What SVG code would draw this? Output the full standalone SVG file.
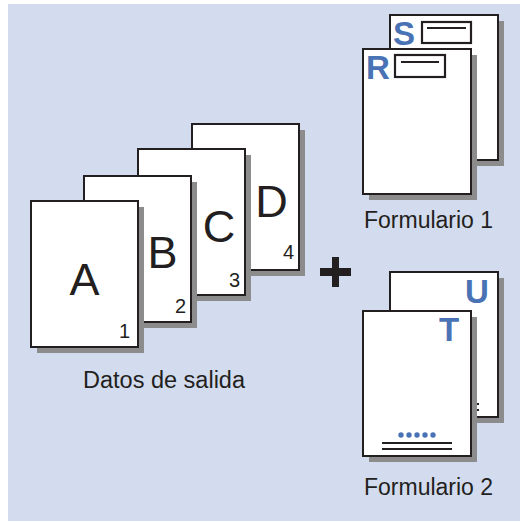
<svg xmlns="http://www.w3.org/2000/svg" width="520" height="522" viewBox="0 0 520 522">
<style>
.sh{fill:#8c8c8c}
.pg{fill:#fff;stroke:#231f20;stroke-width:2}
.big{font-family:"Liberation Sans",Arial,sans-serif;font-size:45px;fill:#231f20;text-anchor:middle}
.num{font-family:"Liberation Sans",Arial,sans-serif;font-size:20px;fill:#231f20;text-anchor:end}
.lbl{font-family:"Liberation Sans",Arial,sans-serif;font-size:23px;fill:#231f20}
.bl{font-family:"Liberation Sans",Arial,sans-serif;font-size:33px;font-weight:bold;fill:#4a73b5}
.box{fill:#fff;stroke:#231f20;stroke-width:2.2}
.ln{stroke:#231f20;stroke-width:2;fill:none}
</style>
<rect x="8" y="4" width="512" height="517" fill="#d3dcee"/>
<g id="sheet-D">
<rect class="sh" x="198" y="130" width="107" height="146"/>
<rect class="pg" x="192" y="124" width="107" height="146"/>
<text class="big" x="271.5" y="217">D</text>
<text class="num" x="294" y="259">4</text>
</g>
<g id="sheet-C">
<rect class="sh" x="144" y="155" width="107" height="146"/>
<rect class="pg" x="138" y="149" width="107" height="146"/>
<text class="big" x="219" y="242">C</text>
<text class="num" x="240" y="287">3</text>
</g>
<g id="sheet-B">
<rect class="sh" x="90" y="182" width="107" height="146"/>
<rect class="pg" x="84" y="176" width="107" height="146"/>
<text class="big" x="162.5" y="268">B</text>
<text class="num" x="186" y="313">2</text>
</g>
<g id="sheet-A">
<rect class="sh" x="37" y="207" width="107" height="146"/>
<rect class="pg" x="31" y="201" width="107" height="146"/>
<text class="big" x="84.5" y="295">A</text>
<text class="num" x="130" y="338">1</text>
</g>
<text id="label-datos" class="lbl" x="83" y="388" style="font-size:23.5px">Datos de salida</text>
<g id="plus" fill="#231f20">
<rect x="320" y="268" width="31" height="8"/>
<rect x="332" y="257" width="7" height="30"/>
</g>
<g id="form1-S">
<rect class="sh" x="396" y="21" width="108" height="145"/>
<rect class="pg" x="390" y="15" width="108" height="145"/>
<text class="bl" x="393" y="45">S</text>
<rect class="box" x="422" y="22" width="49" height="21"/>
<line class="ln" x1="427" y1="28" x2="466" y2="28"/>
</g>
<g id="form1-R">
<rect class="sh" x="369" y="55" width="108" height="145"/>
<rect class="pg" x="363" y="49" width="108" height="145"/>
<text class="bl" x="366" y="79">R</text>
<rect class="box" x="395" y="55" width="50" height="22"/>
<line class="ln" x1="401" y1="62" x2="439" y2="62"/>
</g>
<text id="label-form1" class="lbl" x="364" y="228">Formulario 1</text>
<g id="form2-U">
<rect class="sh" x="396" y="278" width="108" height="145"/>
<rect class="pg" x="390" y="272" width="108" height="145"/>
<text class="bl" x="465" y="303">U</text>
<line class="ln" x1="409" y1="404" x2="479" y2="404" stroke-width="1.6"/>
<line class="ln" x1="409" y1="410" x2="479" y2="410"/>
</g>
<g id="form2-T">
<rect class="sh" x="369" y="317" width="108" height="145"/>
<rect class="pg" x="363" y="311" width="108" height="145"/>
<text class="bl" x="439" y="341">T</text>
<g fill="#4a73b5">
<circle cx="401" cy="435" r="2.7"/>
<circle cx="409" cy="435" r="2.7"/>
<circle cx="417" cy="435" r="2.7"/>
<circle cx="425" cy="435" r="2.7"/>
<circle cx="433" cy="435" r="2.7"/>
</g>
<line class="ln" x1="382" y1="443" x2="452" y2="443" stroke-width="1.6"/>
<line class="ln" x1="382" y1="449" x2="452" y2="449"/>
</g>
<text id="label-form2" class="lbl" x="364" y="495">Formulario 2</text>
</svg>
